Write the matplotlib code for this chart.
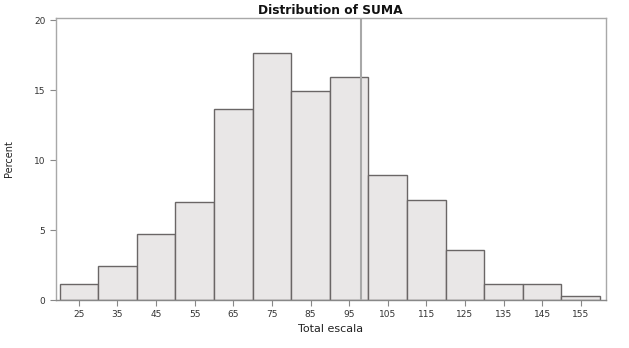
import matplotlib
matplotlib.use("Agg")
import matplotlib.pyplot as plt

bin_left = [20, 30, 40, 50, 60, 70, 80, 90, 100, 110, 120, 130, 140, 150]
percent = [1.12, 2.43, 4.71, 7.0, 13.66, 17.69, 14.95, 15.93, 8.93, 7.14, 3.57, 1.12, 1.12, 0.31]
bin_width = 10
ref_line = 98
xticks = [25, 35, 45, 55, 65, 75, 85, 95, 105, 115, 125, 135, 145, 155]
yticks = [0, 5, 10, 15, 20]

plt.rcParams['font.family'] = ['DejaVu Sans']
fig = plt.figure(figsize=(6.29, 3.48), dpi=100)
ax = fig.add_axes([55.7/629, 1 - 300/348, (605.5-55.7)/629, (300-17.7)/348])

ax.bar(bin_left, percent, width=bin_width, align='edge', color='#e9e7e7',
       edgecolor='#6a6666', linewidth=1.0, zorder=2)
ax.axvline(ref_line, color='#a8a8a8', linewidth=1.5, zorder=3)

ax.set_xlim(19.0, 161.4)
ax.set_ylim(0, 20.2)
ax.set_xticks(xticks)
ax.set_yticks(yticks)
ax.tick_params(axis='both', colors='#888888', labelcolor='#333333', labelsize=6.5, length=4, width=0.8)
for s in ax.spines.values():
    s.set_color('#a8a8a8')
    s.set_linewidth(1.0)
ax.spines['bottom'].set_color('#888888')

ax.set_title('Distribution of SUMA', fontsize=8.8, fontweight='bold', color='#111111', pad=2.5)
ax.set_xlabel('Total escala', fontsize=8, color='#222222', labelpad=3.5)
ax.set_ylabel('Percent', fontsize=7, color='#222222', labelpad=14)

fig.savefig('out.png', dpi=100, facecolor='white')
